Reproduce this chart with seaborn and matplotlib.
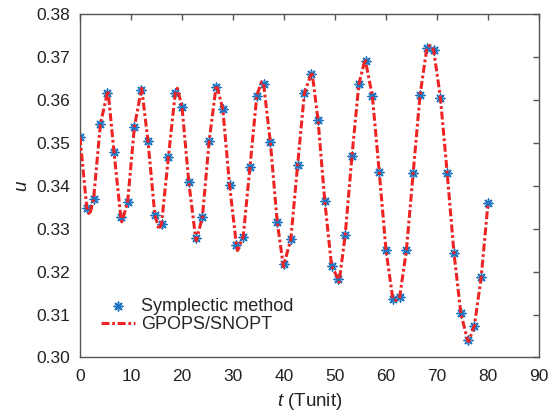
import numpy as np
import pandas as pd
import matplotlib
matplotlib.use("Agg")
import matplotlib.pyplot as plt
import seaborn as sns

# Symplectic method samples
t_sym = [0.00, 1.33, 2.67, 4.00, 5.33, 6.67, 8.00, 9.33, 10.67, 12.00,
         13.33, 14.67, 16.00, 17.33, 18.67, 20.00, 21.33, 22.67, 24.00, 25.33,
         26.67, 28.00, 29.33, 30.67, 32.00, 33.33, 34.67, 36.00, 37.33, 38.67,
         40.00, 41.33, 42.67, 44.00, 45.33, 46.67, 48.00, 49.33, 50.67, 52.00,
         53.33, 54.67, 56.00, 57.33, 58.67, 60.00, 61.33, 62.67, 64.00, 65.33,
         66.67, 68.00, 69.33, 70.67, 72.00, 73.33, 74.67, 76.00, 77.33, 78.67,
         80.00]
u_sym = [0.3513, 0.3349, 0.3369, 0.3543, 0.3615, 0.3479, 0.3327, 0.3361, 0.3537, 0.3622,
         0.3504, 0.3333, 0.3312, 0.3466, 0.3615, 0.3584, 0.3409, 0.3279, 0.3327, 0.3504,
         0.3630, 0.3579, 0.3401, 0.3262, 0.3281, 0.3444, 0.3610, 0.3637, 0.3501, 0.3316,
         0.3217, 0.3275, 0.3448, 0.3616, 0.3660, 0.3553, 0.3364, 0.3213, 0.3182, 0.3285,
         0.3470, 0.3636, 0.3690, 0.3608, 0.3433, 0.3250, 0.3137, 0.3140, 0.3250, 0.3430,
         0.3611, 0.3720, 0.3717, 0.3605, 0.3429, 0.3243, 0.3103, 0.3040, 0.3074, 0.3188,
         0.3360]

# GPOPS/SNOPT curve (sample points plus peaks and troughs)
t_gp = [0.00, 1.33, 1.90, 2.67, 4.00, 5.33, 5.50, 6.67, 8.00, 8.20, 9.33, 10.67,
        12.00, 12.10, 13.33, 14.67, 15.50, 16.00, 17.33, 18.67, 19.10, 20.00, 21.33,
        22.67, 22.80, 24.00, 25.33, 26.67, 26.80, 28.00, 29.33, 30.67, 30.90, 32.00,
        33.33, 34.67, 35.60, 36.00, 37.33, 38.67, 39.90, 40.00, 41.33, 42.67, 44.00,
        45.33, 45.50, 46.67, 48.00, 49.33, 50.67, 50.80, 52.00, 53.33, 54.67, 55.90,
        56.00, 57.33, 58.67, 60.00, 61.33, 61.90, 62.67, 64.00, 65.33, 66.67, 68.00,
        68.60, 69.33, 70.67, 72.00, 73.33, 74.67, 76.00, 76.20, 77.33, 78.67, 80.00]
u_gp = [0.3513, 0.3349, 0.3332, 0.3369, 0.3543, 0.3615, 0.3621, 0.3479, 0.3327, 0.3316, 0.3361, 0.3537,
        0.3622, 0.3627, 0.3504, 0.3333, 0.3298, 0.3312, 0.3466, 0.3615, 0.3627, 0.3584, 0.3409,
        0.3279, 0.3272, 0.3327, 0.3504, 0.3630, 0.3634, 0.3579, 0.3401, 0.3262, 0.3249, 0.3281,
        0.3444, 0.3610, 0.3642, 0.3637, 0.3501, 0.3316, 0.3211, 0.3217, 0.3275, 0.3448, 0.3616,
        0.3660, 0.3665, 0.3553, 0.3364, 0.3213, 0.3182, 0.3175, 0.3285, 0.3470, 0.3636, 0.3695,
        0.3690, 0.3608, 0.3433, 0.3250, 0.3137, 0.3133, 0.3140, 0.3250, 0.3430, 0.3611, 0.3720,
        0.3727, 0.3717, 0.3605, 0.3429, 0.3243, 0.3103, 0.3040, 0.3037, 0.3074, 0.3188, 0.3360]

sym_df = pd.DataFrame({"t": t_sym, "u": u_sym})
gp_df = pd.DataFrame({"t": t_gp, "u": u_gp})

sns.set_theme(style="white")
plt.rcParams["font.family"] = ["Liberation Sans", "DejaVu Sans"]
plt.rcParams["mathtext.fontset"] = "custom"
plt.rcParams["mathtext.it"] = "Liberation Sans:italic"
plt.rcParams["mathtext.rm"] = "Liberation Sans"

fig = plt.figure(figsize=(5.55, 4.17), dpi=100)
ax = fig.add_axes([0.1441, 0.1427, 0.8271, 0.8237])

sns.scatterplot(data=sym_df, x="t", y="u", ax=ax, marker=(8, 2, 0), s=40,
                color="#1f77c4", edgecolor="#1f77c4", linewidth=1.1,
                label="Symplectic method", zorder=2)
sns.lineplot(data=gp_df, x="t", y="u", ax=ax, color="#ee2424", linewidth=2.2,
             label="GPOPS/SNOPT", zorder=3, sort=False)
ax.lines[-1].set_dashes([2.6, 0.9, 0.9, 0.9])

ax.set_xlim(0, 90)
ax.set_ylim(0.30, 0.38)
ax.set_xticks(range(0, 91, 10))
ax.set_yticks([0.30, 0.31, 0.32, 0.33, 0.34, 0.35, 0.36, 0.37, 0.38])
ax.set_yticklabels([f"{v:.2f}" for v in ax.get_yticks()])

for side in ["left", "right", "top", "bottom"]:
    ax.spines[side].set_visible(True)
    ax.spines[side].set_color("#555555")
    ax.spines[side].set_linewidth(1.0)
ax.tick_params(direction="in", length=4, width=1.0, color="#555555",
               top=True, right=True, labelsize=12.5, labelcolor="#222222")
ax.tick_params(axis="x", pad=8)
ax.tick_params(axis="y", pad=7)

ax.set_xlabel("$\\it{t}$ (Tunit)", fontsize=13.5, color="#222222", labelpad=5)
ax.set_ylabel("$\\it{u}$", fontsize=13.5, color="#222222", labelpad=4)

leg = ax.legend(loc="lower left", bbox_to_anchor=(0.03, 0.05), frameon=False,
                fontsize=13, handlelength=1.9, handletextpad=0.3, labelspacing=0.05,
                borderaxespad=0)

fig.savefig("out.png", dpi=100)
